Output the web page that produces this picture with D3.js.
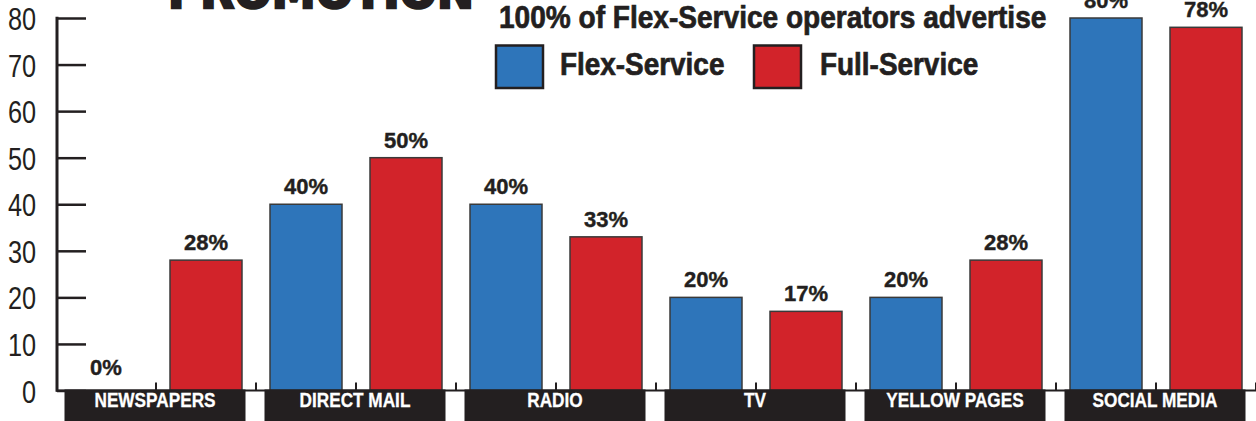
<!DOCTYPE html>
<html>
<head>
<meta charset="utf-8">
<script src="https://cdn.jsdelivr.net/npm/d3@7"></script>
<style>
  html, body { margin: 0; padding: 0; background: #fff; }
  svg { display: block; }
</style>
</head>
<body>
<svg id="chart" width="1256" height="421"></svg>
<script>
// Advertising channels used by operators, by service type (%)
const categories = ["NEWSPAPERS", "DIRECT MAIL", "RADIO", "TV", "YELLOW PAGES", "SOCIAL MEDIA"];
const seriesNames = ["Flex-Service", "Full-Service"];
const flexValues = [0, 40, 40, 20, 20, 80];
const fullValues = [28, 50, 33, 17, 28, 78];
const yTicks = [0, 10, 20, 30, 40, 50, 60, 70, 80];
const titleText = "PROMOTION";
const subtitleText = "100% of Flex-Service operators advertise";

const colors = { "Flex-Service": "#2e75ba", "Full-Service": "#d2232a" };
const ink = "#231f20";

const svg = d3.select("#chart");
const W = 1256, H = 421;

const data = categories.map((c, i) => ({
  cat: c,
  vals: [
    { key: "Flex-Service", value: flexValues[i] },
    { key: "Full-Service", value: fullValues[i] }
  ]
}));

// scales
const x0 = d3.scaleBand().domain(categories).range([56, 1256]).padding(0);
const x1 = d3.scaleBand().domain(seriesNames).range([0, x0.bandwidth()])
  .paddingInner(0.28).paddingOuter(0.14);
const y = d3.scaleLinear().domain([0, 80]).range([390.5, 18]);

// squeeze a text element horizontally to a fraction of its natural width
function condense(sel, factor) {
  sel.each(function () {
    const len = this.getComputedTextLength();
    d3.select(this).attr("textLength", len * factor).attr("lengthAdjust", "spacingAndGlyphs");
  });
}

// title (runs off the top edge)
svg.append("text")
  .attr("x", 168).attr("y", 8)
  .attr("font-family", "DejaVu Sans")
  .attr("font-weight", "bold")
  .attr("font-size", 46)
  .attr("fill", ink).attr("stroke", ink).attr("stroke-width", 2.5)
  .attr("textLength", 306).attr("lengthAdjust", "spacingAndGlyphs")
  .text(titleText);

// subtitle
svg.append("text")
  .attr("x", 499).attr("y", 28)
  .attr("font-family", "Liberation Sans, Arial, sans-serif")
  .attr("font-weight", "bold").attr("font-size", 31)
  .attr("fill", ink).attr("stroke", ink).attr("stroke-width", 0.7)
  .text(subtitleText)
  .call(condense, 0.905);

// legend
const legendPos = [{ x: 496, tx: 560 }, { x: 754, tx: 820 }];
const legend = svg.append("g").selectAll("g").data(seriesNames).join("g");
legend.append("rect")
  .attr("x", (d, i) => legendPos[i].x).attr("y", 45.5)
  .attr("width", 47).attr("height", 42.5)
  .attr("fill", d => colors[d]).attr("stroke", ink).attr("stroke-width", 2.5);
legend.append("text")
  .attr("x", (d, i) => legendPos[i].tx).attr("y", 75)
  .attr("font-family", "Liberation Sans, Arial, sans-serif")
  .attr("font-weight", "bold").attr("font-size", 31)
  .attr("fill", ink).attr("stroke", ink).attr("stroke-width", 0.7)
  .text(d => d)
  .call(condense, 0.9);

// bars
const groups = svg.append("g").selectAll("g").data(data).join("g")
  .attr("transform", d => `translate(${x0(d.cat)},0)`);

groups.selectAll("rect").data(d => d.vals.filter(v => v.value > 0)).join("rect")
  .attr("x", d => x1(d.key))
  .attr("y", d => y(d.value))
  .attr("width", x1.bandwidth())
  .attr("height", d => y(0) - y(d.value))
  .attr("fill", d => colors[d.key])
  .attr("stroke", "#3a3a3a").attr("stroke-width", 1.5);

// value labels
groups.selectAll("text.val").data(d => d.vals).join("text")
  .attr("class", "val")
  .attr("x", d => x1(d.key) + x1.bandwidth() / 2)
  .attr("y", d => y(d.value) - (d.value === 0 ? 16 : 10))
  .attr("text-anchor", "middle")
  .attr("font-family", "Liberation Sans, Arial, sans-serif")
  .attr("font-weight", "bold").attr("font-size", 22)
  .attr("fill", ink).attr("stroke", ink).attr("stroke-width", 0.4)
  .text(d => d.value + "%");

// y axis: vertical rule with ticks pointing into the plot
const yAxis = d3.axisRight(y).tickValues(yTicks).tickSize(29).tickFormat("");
const yg = svg.append("g").attr("transform", "translate(57,0)").call(yAxis);
yg.select(".domain").remove();
yg.selectAll(".tick line").attr("stroke", ink).attr("stroke-width", 2.5);
svg.append("line")
  .attr("x1", 57).attr("x2", 57).attr("y1", y(80) - 1.2).attr("y2", y(0) + 1.2)
  .attr("stroke", ink).attr("stroke-width", 3);

// y tick labels
svg.append("g").selectAll("text").data(yTicks).join("text")
  .attr("x", 36).attr("y", d => y(d) + 12)
  .attr("text-anchor", "end")
  .attr("font-family", "Liberation Sans, Arial, sans-serif")
  .attr("font-size", 32)
  .attr("fill", ink)
  .text(d => d)
  .call(condense, 0.79);

// baseline with small upward ticks at each bar slot boundary
svg.append("line")
  .attr("x1", 56).attr("x2", W).attr("y1", y(0)).attr("y2", y(0))
  .attr("stroke", ink).attr("stroke-width", 2);
const slotEdges = [];
categories.forEach(c => {
  seriesNames.forEach((s, j) => slotEdges.push(x0(c) + x1.step() * (j + 1)));
});
svg.append("g").selectAll("line").data(slotEdges).join("line")
  .attr("x1", d => d).attr("x2", d => d)
  .attr("y1", y(0) - 8).attr("y2", y(0))
  .attr("stroke", ink).attr("stroke-width", 2);

// category labels in dark boxes
const catG = svg.append("g").selectAll("g").data(categories).join("g")
  .attr("transform", c => `translate(${x0(c)},0)`);
catG.append("rect")
  .attr("x", 8.5).attr("y", y(0) - 1).attr("width", 181).attr("height", H - y(0) + 2)
  .attr("fill", ink);
catG.append("text")
  .attr("x", 99).attr("y", 407)
  .attr("text-anchor", "middle")
  .attr("font-family", "Liberation Sans, Arial, sans-serif")
  .attr("font-weight", "bold").attr("font-size", 20)
  .attr("fill", "#fff").attr("stroke", "#fff").attr("stroke-width", 0.3)
  .text(c => c)
  .call(condense, 0.86);
</script>
</body>
</html>
